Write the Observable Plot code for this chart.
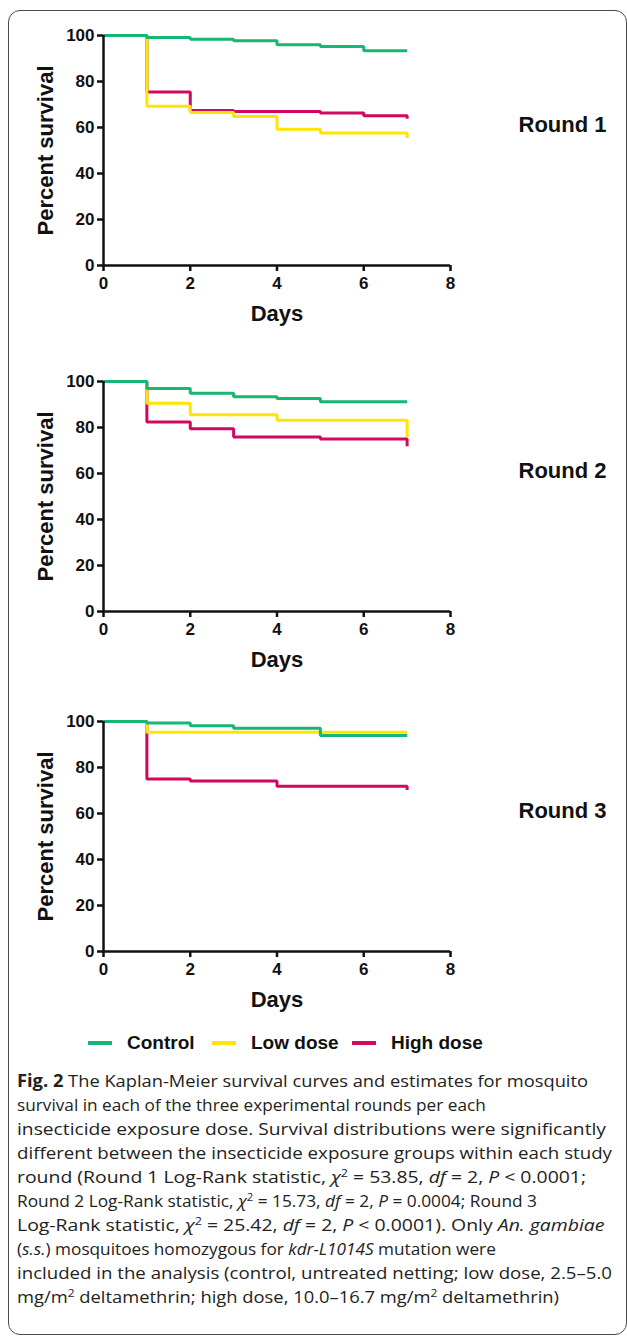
<!DOCTYPE html>
<html>
<head>
<meta charset="utf-8">
<script src="https://cdn.jsdelivr.net/npm/d3@7"></script>
<script src="https://cdn.jsdelivr.net/npm/@observablehq/plot@0.6"></script>
<style>
  html, body { margin: 0; padding: 0; background: #fff; width: 627px; height: 1337px; overflow: hidden; }
  #frame { position: absolute; left: 8px; top: 10px; width: 619px; height: 1325px; border: 1.5px solid #4a4a4a; border-radius: 12px; box-sizing: border-box; }
  .panel { position: absolute; left: 0; }
  .leg { position: absolute; font-family: "Liberation Sans", Arial, sans-serif; font-weight: bold; font-size: 19px; color: #111; line-height: 20px; }
  .sw { position: absolute; height: 4px; width: 24px; }
  #caption { position: absolute; left: 17px; top: 1069px; font-family: "Open Sans", sans-serif; font-weight: 400; font-size: 17px; line-height: 24px; color: #222; white-space: nowrap; }
  #caption > div { transform-origin: 0 0; }
  #caption sup { font-size: 11px; line-height: 0; vertical-align: 6px; }
  #caption b { font-weight: 700; }
</style>
</head>
<body>
<div id="frame"></div>
<div id="p1" class="panel" style="top:0px"></div>
<div id="p2" class="panel" style="top:346px"></div>
<div id="p3" class="panel" style="top:686px"></div>
<div id="legend"></div>
<div id="caption">
<div><span><b>Fig. 2</b> The Kaplan-Meier survival curves and estimates for mosquito</span></div>
<div><span>survival in each of the three experimental rounds per each</span></div>
<div><span>insecticide exposure dose. Survival distributions were significantly</span></div>
<div><span>different between the insecticide exposure groups within each study</span></div>
<div><span>round (Round 1 Log-Rank statistic, <i>χ</i><sup>2</sup> = 53.85, <i>df</i> = 2, <i>P</i> &lt; 0.0001;</span></div>
<div><span>Round 2 Log-Rank statistic, <i>χ</i><sup>2</sup> = 15.73, <i>df</i> = 2, <i>P</i> = 0.0004; Round 3</span></div>
<div><span>Log-Rank statistic, <i>χ</i><sup>2</sup> = 25.42, <i>df</i> = 2, <i>P</i> &lt; 0.0001). Only <i>An. gambiae</i></span></div>
<div><span>(<i>s.s.</i>) mosquitoes homozygous for <i>kdr-L1014S</i> mutation were</span></div>
<div><span>included in the analysis (control, untreated netting; low dose, 2.5–5.0</span></div>
<div><span>mg/m<sup>2</sup> deltamethrin; high dose, 10.0–16.7 mg/m<sup>2</sup> deltamethrin)</span></div>
</div>
<script>
// ---- data ----
const days = [0, 1, 2, 3, 4, 5, 6, 7];
const groups = ["Control", "Low dose", "High dose"];
const colors = ["#14b774", "#ffe500", "#d0085f"];
const xTicks = [0, 2, 4, 6, 8];
const yTicks = [0, 20, 40, 60, 80, 100];
const rounds = ["Round 1", "Round 2", "Round 3"];
const xLabel = "Days";
const yLabel = "Percent survival";

const r1Control = [100, 99.1, 98.4, 97.7, 96.0, 95.2, 93.4, 93.4];
const r1Low     = [100, 69.2, 66.5, 64.8, 59.2, 57.6, 57.6, 55.4];
const r1High    = [100, 75.4, 67.4, 67.0, 67.0, 66.3, 65.1, 63.8];

const r2Control = [100, 97.0, 94.9, 93.4, 92.6, 91.2, 91.2, 91.2];
const r2Low     = [100, 90.5, 85.5, 85.5, 83.1, 83.1, 83.1, 75.9];
const r2High    = [100, 82.4, 79.5, 75.9, 75.9, 75.0, 75.0, 71.9];

const r3Control = [100, 99.3, 98.2, 97.1, 97.1, 93.9, 93.9, 93.9];
const r3Low     = [100, 95.3, 95.3, 95.3, 95.3, 95.3, 95.3, 95.3];
const r3High    = [100, 75.0, 74.1, 74.1, 71.8, 71.8, 71.8, 70.2];

// caption line right ends in the reference (layout only)
const captionEnds = [588, 431, 606, 612, 586, 537, 609, 442, 612, 559];

const boldFont = "'Liberation Sans', Arial, Helvetica, sans-serif";

function makePanel(label, control, low, high) {
  const series = [["High dose", high], ["Low dose", low], ["Control", control]];
  const data = [];
  for (const [g, vals] of series) days.forEach((d, i) => data.push({group: g, day: d, pct: vals[i]}));
  return Plot.plot({
    width: 627, height: 330,
    marginLeft: 103, marginRight: 177, marginTop: 35, marginBottom: 65,
    x: {domain: [0, 8]},
    y: {domain: [0, 100]},
    color: {domain: groups, range: colors},
    style: {fontFamily: boldFont, fontWeight: "bold", color: "#111", background: "transparent", overflow: "visible"},
    marks: [
      Plot.axisX({ticks: xTicks, tickSize: 6, tickPadding: 5, fontSize: 17, fontWeight: "bold", label: null, strokeWidth: 2.5, stroke: "#111"}),
      Plot.axisY({ticks: yTicks, tickSize: 6, tickPadding: 3, fontSize: 17, fontWeight: "bold", label: null, strokeWidth: 2.5, stroke: "#111"}),
      ...series.map(([g]) => Plot.line(data.filter(d => d.group === g), {
        x: "day", y: "pct", stroke: "group", curve: "step-after",
        strokeWidth: 3, strokeLinejoin: "miter", strokeLinecap: "butt"
      })),
      Plot.ruleX([0], {y1: 0, y2: 100, stroke: "#111", strokeWidth: 2.5}),
      Plot.ruleY([0], {x1: 0, x2: 8, stroke: "#111", strokeWidth: 2.5}),
      Plot.text([yLabel], {text: d => d, frameAnchor: "left", textAnchor: "middle", lineAnchor: "middle", rotate: -90, dx: -58, fontSize: 22, fontWeight: "bold", fill: "#111"}),
      Plot.text([xLabel], {text: d => d, frameAnchor: "bottom", textAnchor: "middle", lineAnchor: "middle", dy: 48, fontSize: 22, fontWeight: "bold", fill: "#111"}),
      Plot.text([label], {text: d => d, frameAnchor: "right", textAnchor: "middle", lineAnchor: "middle", dx: 112, dy: -26, fontSize: 22, fontWeight: "bold", fill: "#111"})
    ]
  });
}

document.getElementById("p1").append(makePanel(rounds[0], r1Control, r1Low, r1High));
document.getElementById("p2").append(makePanel(rounds[1], r2Control, r2Low, r2High));
document.getElementById("p3").append(makePanel(rounds[2], r3Control, r3Low, r3High));

// legend
const legend = document.getElementById("legend");
const legX = [88, 212, 352];
groups.forEach((g, i) => {
  const sw = document.createElement("div");
  sw.className = "sw";
  sw.style.left = legX[i] + "px";
  sw.style.top = "1041px";
  sw.style.background = colors[i];
  legend.append(sw);
  const t = document.createElement("div");
  t.className = "leg";
  t.style.left = (legX[i] + 39) + "px";
  t.style.top = "1033px";
  t.textContent = g;
  legend.append(t);
});

// fit caption lines toward the reference line lengths, keeping a consistent look
const lines = Array.from(document.querySelectorAll("#caption > div"));
const ratios = lines.map((div, i) => (captionEnds[i] - 17) / div.firstElementChild.getBoundingClientRect().width);
const base = d3.median(ratios);
lines.forEach((div, i) => {
  const r = Math.max(base * 0.93, Math.min(base * 1.05, ratios[i]));
  div.style.transform = `scaleX(${r})`;
});
</script>
</body>
</html>
